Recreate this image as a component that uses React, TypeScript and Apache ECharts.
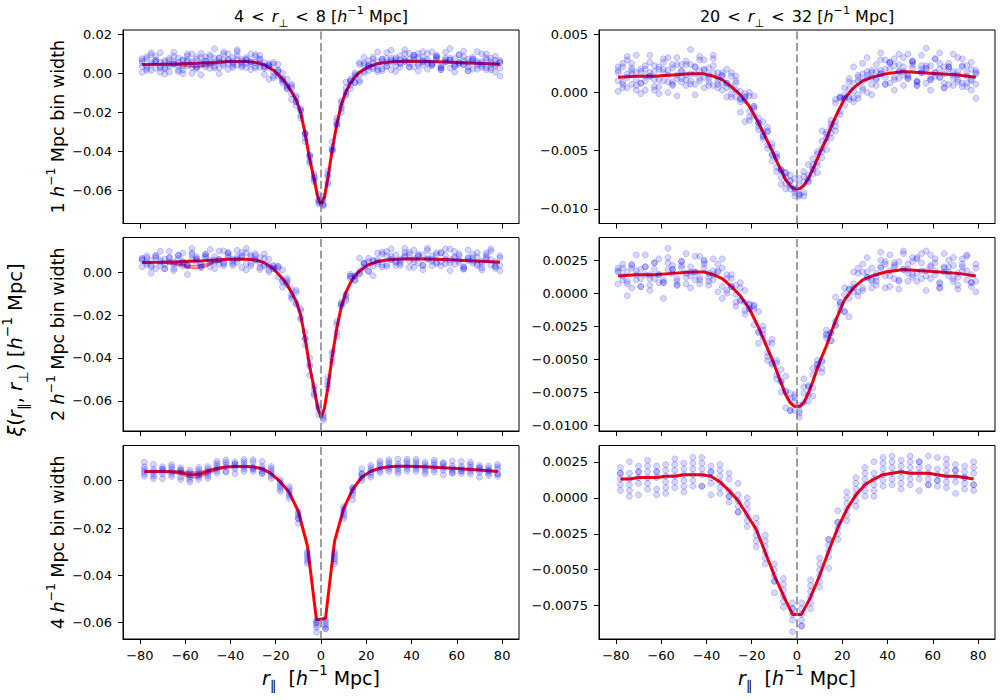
import React, { useEffect, useRef } from "react";
import * as echarts from "echarts";

// ---------- bin centres (r_parallel) ----------
const bins2 = [-79,-77,-75,-73,-71,-69,-67,-65,-63,-61,-59,-57,-55,-53,-51,-49,-47,-45,-43,-41,-39,-37,-35,-33,-31,-29,-27,-25,-23,-21,-19,-17,-15,-13,-11,-9,-7,-5,-3,-1,1,3,5,7,9,11,13,15,17,19,21,23,25,27,29,31,33,35,37,39,41,43,45,47,49,51,53,55,57,59,61,63,65,67,69,71,73,75,77,79];
const bins4 = [-78,-74,-70,-66,-62,-58,-54,-50,-46,-42,-38,-34,-30,-26,-22,-18,-14,-10,-6,-2,2,6,10,14,18,22,26,30,34,38,42,46,50,54,58,62,66,70,74,78];

// ---------- scatter: 4 < r_perp < 8, 1 Mpc bins ----------
const tlA = [0.0075,0.0025,0.0095,0.0056,0.0006,0.0066,0.0047,0.0107,0.0018,0.0038,0.0089,0.0000,0.0071,0.0082,0.0033,0.0055,0.0126,0.0028,0.0069,0.0020,0.0080,0.0111,0.0051,0.0030,0.0059,0.0096,0.0032,0.0054,-0.0030,0.0046,0.0016,-0.0040,-0.0059,-0.0055,-0.0165,-0.0180,-0.0350,-0.0430,-0.0515,-0.0670,-0.0650,-0.0570,-0.0350,-0.0260,-0.0180,-0.0045,-0.0060,0.0002,-0.0035,0.0052,0.0044,0.0023,0.0109,0.0023,0.0056,0.0078,0.0010,0.0071,0.0101,0.0052,0.0092,0.0042,0.0061,0.0021,0.0110,0.0080,0.0029,0.0068,0.0127,0.0036,0.0055,0.0084,0.0013,0.0072,0.0041,0.0100,0.0019,0.0058,0.0067,0.0026];
const tlB = [0.0035,0.0085,0.0015,0.0066,0.0106,0.0026,0.0007,0.0057,0.0078,-0.0002,0.0069,0.0050,0.0021,0.0102,0.0043,0.0085,0.0036,-0.0002,0.0099,0.0070,0.0040,0.0091,0.0061,0.0050,0.0099,0.0026,0.0072,0.0024,0.0040,-0.0024,0.0046,-0.0050,-0.0029,-0.0105,-0.0115,-0.0230,-0.0310,-0.0420,-0.0555,-0.0620,-0.0680,-0.0500,-0.0400,-0.0230,-0.0200,-0.0095,-0.0030,-0.0048,0.0055,0.0012,0.0064,0.0053,0.0009,0.0073,0.0036,0.0118,0.0060,0.0031,0.0071,0.0102,0.0032,0.0082,0.0111,0.0051,0.0040,0.0090,0.0019,0.0058,0.0077,0.0006,0.0095,0.0044,0.0073,0.0022,0.0111,0.0050,0.0029,0.0078,0.0007,0.0056];
const tlC = [0.0055,0.0035,0.0045,0.0066,0.0026,0.0056,0.0037,0.0047,0.0058,0.0068,0.0039,0.0060,0.0031,0.0052,0.0063,0.0045,0.0076,0.0058,0.0049,0.0070,0.0060,0.0041,0.0071,0.0070,0.0049,0.0056,0.0072,0.0034,0.0030,0.0006,0.0006,-0.0030,-0.0069,-0.0075,-0.0145,-0.0190,-0.0310,-0.0460,-0.0535,-0.0650,-0.0670,-0.0520,-0.0390,-0.0270,-0.0150,-0.0115,-0.0040,-0.0018,-0.0005,0.0042,0.0034,0.0033,0.0059,0.0073,0.0036,0.0058,0.0070,0.0051,0.0061,0.0072,0.0082,0.0052,0.0061,0.0071,0.0050,0.0080,0.0039,0.0058,0.0067,0.0046,0.0055,0.0064,0.0033,0.0062,0.0051,0.0040,0.0069,0.0048,0.0047,0.0056];
const tlD = [0.0065,0.0015,0.0055,0.0086,0.0036,0.0026,0.0077,0.0047,0.0008,0.0068,0.0059,0.0100,0.0031,0.0042,0.0083,0.0025,0.0056,0.0078,0.0039,0.0100,0.0050,0.0071,0.0031,0.0080,0.0059,0.0036,0.0092,0.0034,0.0040,-0.0014,0.0016,-0.0030,-0.0079,-0.0065,-0.0145,-0.0190,-0.0330,-0.0420,-0.0545,-0.0660,-0.0630,-0.0560,-0.0380,-0.0260,-0.0140,-0.0105,-0.0080,-0.0008,0.0045,0.0002,0.0034,0.0073,0.0039,0.0013,0.0076,0.0068,0.0040,0.0091,0.0061,0.0032,0.0072,0.0102,0.0041,0.0061,0.0050,0.0090,0.0029,0.0078,0.0067,0.0036,0.0095,0.0044,0.0053,0.0072,0.0021,0.0060,0.0079,0.0028,0.0037,0.0066];
const tlE = [0.0005,0.0075,0.0105,0.0026,0.0056,-0.0004,0.0067,0.0087,0.0038,0.0018,0.0099,0.0030,0.0081,-0.0008,0.0063,0.0095,0.0026,0.0078,0.0109,0.0050,0.0030,0.0121,0.0041,0.0070,0.0019,0.0086,0.0052,-0.0006,0.0050,0.0056,-0.0014,0.0000,-0.0079,-0.0135,-0.0125,-0.0215,-0.0305,-0.0450,-0.0530,-0.0650,-0.0675,-0.0530,-0.0395,-0.0245,-0.0170,-0.0075,-0.0040,-0.0048,-0.0045,0.0082,0.0014,0.0083,0.0019,0.0063,0.0106,0.0018,0.0080,0.0051,0.0121,0.0032,0.0092,0.0012,0.0081,0.0101,0.0040,0.0070,0.0019,0.0108,0.0027,0.0076,0.0045,0.0114,0.0013,0.0082,0.0061,0.0030,0.0099,0.0018,0.0087,-0.0014];

// ---------- scatter: 4 < r_perp < 8, 2 Mpc bins ----------
const mlA = [0.0025,0.0065,0.0055,0.0016,0.0096,0.0036,0.0067,0.0007,0.0078,0.0048,0.0029,0.0110,0.0061,0.0022,0.0073,0.0105,0.0016,0.0058,0.0039,0.0090,0.0050,0.0101,0.0071,0.0010,0.0079,0.0056,0.0022,0.0084,0.0010,0.0026,0.0026,-0.0070,-0.0039,-0.0105,-0.0085,-0.0220,-0.0310,-0.0400,-0.0575,-0.0640,-0.0680,-0.0510,-0.0380,-0.0300,-0.0140,-0.0125,-0.0010,-0.0018,-0.0005,0.0042,0.0064,-0.0017,0.0059,0.0033,0.0096,0.0058,0.0030,0.0051,0.0111,0.0082,0.0022,0.0072,0.0031,0.0111,0.0060,0.0040,0.0089,0.0078,0.0007,0.0096,0.0045,0.0024,0.0103,0.0052,0.0071,0.0010,0.0059,0.0098,0.0027,0.0076];
const mlB = [0.0055,0.0075,-0.0005,0.0066,0.0046,0.0016,0.0097,0.0037,0.0078,0.0028,-0.0011,0.0090,0.0061,0.0032,0.0083,0.0055,0.0046,0.0098,0.0029,0.0080,0.0040,0.0071,0.0021,0.0110,0.0039,0.0086,0.0042,0.0064,0.0000,0.0016,0.0016,-0.0040,-0.0029,-0.0115,-0.0095,-0.0210,-0.0280,-0.0480,-0.0545,-0.0630,-0.0690,-0.0490,-0.0400,-0.0230,-0.0150,-0.0135,-0.0030,-0.0038,0.0065,0.0022,0.0004,0.0053,0.0089,0.0023,0.0076,0.0108,0.0050,0.0041,0.0091,0.0022,0.0062,0.0082,0.0011,0.0101,0.0050,0.0080,0.0029,0.0108,0.0057,0.0036,0.0085,0.0014,0.0063,0.0042,0.0091,0.0020,0.0069,0.0108,0.0027,0.0006];
const mlC = [0.0060,0.0045,0.0030,0.0076,0.0031,0.0061,0.0047,0.0017,0.0063,0.0048,0.0034,0.0080,0.0051,0.0037,0.0068,0.0025,0.0071,0.0058,0.0044,0.0090,0.0060,0.0046,0.0076,0.0090,0.0029,0.0056,0.0067,0.0029,0.0030,0.0031,0.0026,-0.0045,-0.0059,-0.0080,-0.0150,-0.0170,-0.0340,-0.0440,-0.0530,-0.0665,-0.0660,-0.0525,-0.0420,-0.0245,-0.0160,-0.0110,-0.0020,-0.0018,-0.0010,0.0037,0.0049,0.0028,0.0049,0.0083,0.0026,0.0073,0.0045,0.0061,0.0076,0.0092,0.0047,0.0077,0.0031,0.0061,0.0075,0.0045,0.0089,0.0058,0.0042,0.0071,0.0055,0.0024,0.0068,0.0067,0.0036,0.0050,0.0079,0.0033,0.0047,0.0031];
const mlD = [0.0065,0.0035,0.0025,0.0076,0.0056,0.0016,0.0067,0.0047,0.0038,0.0088,0.0029,0.0060,0.0071,0.0022,0.0083,0.0045,0.0056,0.0038,0.0099,0.0070,0.0030,0.0061,0.0091,0.0040,0.0069,0.0076,0.0012,0.0034,0.0060,0.0016,-0.0024,0.0010,-0.0049,-0.0125,-0.0145,-0.0180,-0.0310,-0.0430,-0.0565,-0.0620,-0.0670,-0.0540,-0.0370,-0.0280,-0.0150,-0.0105,-0.0020,-0.0038,0.0005,0.0042,0.0004,0.0053,0.0039,0.0093,0.0036,0.0058,0.0080,0.0031,0.0071,0.0052,0.0102,0.0042,0.0081,0.0061,0.0030,0.0090,0.0049,0.0038,0.0107,0.0066,0.0075,0.0014,0.0053,0.0082,0.0031,0.0040,0.0089,0.0058,0.0017,0.0066];

// ---------- scatter: 4 < r_perp < 8, 4 Mpc bins ----------
const bl1 = [0.0059,0.0029,0.0049,0.0068,0.0015,0.0025,0.0036,0.0010,0.0072,0.0068,0.0050,0.0080,0.0059,0.0031,0.0060,-0.0005,-0.0065,-0.0130,-0.0350,-0.0600,-0.0605,-0.0300,-0.0150,-0.0040,0.0000,0.0055,0.0053,0.0049,0.0091,0.0041,0.0070,0.0059,0.0077,0.0025,0.0063,0.0041,0.0068,0.0045,0.0022,0.0049];
const bl2 = [0.0019,0.0049,0.0009,0.0038,0.0055,0.0015,0.0056,0.0050,0.0042,0.0038,0.0080,0.0060,0.0049,0.0081,0.0010,-0.0015,-0.0035,-0.0160,-0.0320,-0.0640,-0.0585,-0.0340,-0.0140,-0.0030,0.0030,0.0015,0.0083,0.0069,0.0051,0.0061,0.0040,0.0079,0.0047,0.0065,0.0053,0.0081,0.0028,0.0055,0.0062,0.0029];
const bl3 = [0.0039,0.0069,0.0029,0.0018,0.0045,0.0045,0.0006,0.0040,0.0062,0.0088,0.0060,0.0040,0.0079,0.0061,0.0020,-0.0045,-0.0055,-0.0140,-0.0300,-0.0620,-0.0625,-0.0330,-0.0120,-0.0060,0.0050,0.0035,0.0033,0.0079,0.0071,0.0051,0.0090,0.0039,0.0057,0.0075,0.0043,0.0061,0.0048,0.0015,0.0052,0.0059];
const bl4 = [0.0079,0.0019,0.0059,0.0048,0.0035,-0.0005,0.0016,0.0060,0.0032,0.0058,0.0070,0.0050,0.0089,0.0031,0.0030,0.0005,-0.0045,-0.0180,-0.0330,-0.0590,-0.0615,-0.0310,-0.0160,-0.0050,0.0030,0.0025,0.0073,0.0089,0.0041,0.0071,0.0050,0.0069,0.0037,0.0055,0.0083,0.0031,0.0058,0.0065,0.0042,0.0029];
const bl5 = [0.0029,0.0039,0.0049,0.0028,0.0005,0.0035,0.0026,0.0030,0.0082,0.0038,0.0030,0.0070,0.0039,0.0051,0.0050,-0.0025,-0.0075,-0.0150,-0.0340,-0.0610,-0.0595,-0.0350,-0.0130,-0.0080,0.0020,0.0065,0.0063,0.0039,0.0061,0.0081,0.0060,0.0029,0.0067,0.0045,0.0033,0.0051,0.0038,0.0055,0.0032,0.0069];
const bl6 = [0.0049,0.0009,0.0039,0.0058,0.0045,0.0005,0.0046,0.0020,0.0052,0.0078,0.0070,0.0090,0.0049,0.0041,0.0040,-0.0035,-0.0025,-0.0160,-0.0310,-0.0600,-0.0625,-0.0320,-0.0110,-0.0030,0.0010,0.0045,0.0043,0.0059,0.0031,0.0091,0.0080,0.0049,0.0087,0.0075,0.0033,0.0041,0.0078,0.0035,0.0042,0.0019];

// ---------- scatter: 20 < r_perp < 32, 1 Mpc bins ----------
const trA = [0.0022,0.0007,0.0028,0.0016,0.0002,0.0020,0.0014,0.0032,0.0005,0.0011,0.0026,0.0000,0.0021,0.0024,0.0009,0.0015,0.0037,0.0007,0.0019,0.0004,0.0021,0.0029,0.0010,0.0002,0.0008,0.0017,-0.0004,0.0001,-0.0025,-0.0003,-0.0012,-0.0029,-0.0034,-0.0030,-0.0059,-0.0053,-0.0079,-0.0072,-0.0071,-0.0089,-0.0080,-0.0089,-0.0062,-0.0066,-0.0063,-0.0033,-0.0043,-0.0024,-0.0033,-0.0004,-0.0002,-0.0006,0.0022,-0.0002,0.0010,0.0018,-0.0002,0.0018,0.0028,0.0013,0.0026,0.0011,0.0018,0.0006,0.0033,0.0024,0.0009,0.0020,0.0038,0.0011,0.0017,0.0025,0.0004,0.0022,0.0012,0.0030,0.0005,0.0017,0.0020,0.0007];
const trB = [0.0010,0.0025,0.0004,0.0019,0.0032,0.0008,0.0002,0.0017,0.0023,-0.0001,0.0020,0.0015,0.0006,0.0030,0.0012,0.0024,0.0010,-0.0002,0.0028,0.0019,0.0009,0.0023,0.0013,0.0008,0.0020,-0.0004,0.0008,-0.0008,-0.0004,-0.0024,-0.0003,-0.0032,-0.0025,-0.0045,-0.0044,-0.0068,-0.0067,-0.0069,-0.0083,-0.0074,-0.0089,-0.0068,-0.0077,-0.0057,-0.0069,-0.0048,-0.0034,-0.0039,-0.0006,-0.0016,0.0004,0.0003,-0.0008,0.0013,0.0004,0.0030,0.0013,0.0006,0.0019,0.0028,0.0008,0.0023,0.0033,0.0015,0.0012,0.0027,0.0006,0.0017,0.0023,0.0002,0.0029,0.0013,0.0022,0.0007,0.0033,0.0015,0.0008,0.0023,0.0002,0.0016];
const trC = [0.0017,0.0009,0.0013,0.0021,0.0006,0.0018,0.0010,0.0014,0.0018,0.0022,0.0010,0.0019,0.0007,0.0015,0.0019,0.0011,0.0024,0.0016,0.0012,0.0020,0.0015,0.0006,0.0017,0.0015,0.0004,0.0005,0.0010,-0.0006,-0.0007,-0.0016,-0.0014,-0.0026,-0.0038,-0.0034,-0.0054,-0.0055,-0.0067,-0.0083,-0.0076,-0.0083,-0.0087,-0.0072,-0.0074,-0.0070,-0.0053,-0.0056,-0.0036,-0.0030,-0.0025,-0.0005,-0.0005,-0.0004,0.0008,0.0015,0.0002,0.0012,0.0017,0.0011,0.0016,0.0020,0.0025,0.0013,0.0018,0.0022,0.0014,0.0026,0.0010,0.0017,0.0021,0.0013,0.0017,0.0020,0.0008,0.0020,0.0015,0.0011,0.0022,0.0014,0.0010,0.0017];
const trD = [0.0019,0.0004,0.0016,0.0025,0.0011,0.0008,0.0023,0.0014,0.0002,0.0020,0.0017,0.0030,0.0009,0.0012,0.0024,0.0006,0.0016,0.0022,0.0010,0.0028,0.0012,0.0017,0.0004,0.0017,0.0008,-0.0001,0.0014,-0.0005,-0.0004,-0.0021,-0.0012,-0.0026,-0.0040,-0.0033,-0.0053,-0.0056,-0.0073,-0.0069,-0.0080,-0.0086,-0.0074,-0.0086,-0.0071,-0.0066,-0.0051,-0.0051,-0.0049,-0.0027,-0.0009,-0.0019,-0.0005,0.0009,0.0001,-0.0005,0.0016,0.0015,0.0007,0.0024,0.0016,0.0007,0.0020,0.0029,0.0012,0.0018,0.0015,0.0027,0.0009,0.0023,0.0020,0.0011,0.0029,0.0013,0.0016,0.0022,0.0006,0.0018,0.0023,0.0008,0.0011,0.0019];
const trE = [0.0001,0.0022,0.0031,0.0007,0.0017,-0.0001,0.0020,0.0026,0.0011,0.0005,0.0029,0.0009,0.0024,-0.0003,0.0018,0.0027,0.0007,0.0022,0.0031,0.0013,0.0006,0.0032,0.0007,0.0014,-0.0004,0.0014,0.0002,-0.0017,-0.0001,0.0000,-0.0020,-0.0022,-0.0037,-0.0048,-0.0047,-0.0064,-0.0066,-0.0078,-0.0076,-0.0083,-0.0088,-0.0077,-0.0076,-0.0062,-0.0060,-0.0042,-0.0039,-0.0035,-0.0029,-0.0004,-0.0011,0.0012,-0.0005,0.0010,0.0025,0.0000,0.0019,0.0012,0.0034,0.0007,0.0026,0.0002,0.0024,0.0030,0.0012,0.0021,0.0006,0.0032,0.0008,0.0023,0.0014,0.0034,0.0004,0.0025,0.0018,0.0009,0.0029,0.0005,0.0026,-0.0005];

// ---------- scatter: 20 < r_perp < 32, 2 Mpc bins ----------
const mrA = [0.0007,0.0019,0.0016,0.0004,0.0029,0.0011,0.0020,0.0002,0.0023,0.0014,0.0008,0.0034,0.0018,0.0006,0.0021,0.0030,0.0004,0.0016,0.0010,0.0025,0.0012,0.0026,0.0016,-0.0004,0.0014,0.0005,-0.0007,0.0008,-0.0013,-0.0009,-0.0009,-0.0038,-0.0028,-0.0045,-0.0035,-0.0065,-0.0067,-0.0063,-0.0089,-0.0082,-0.0091,-0.0071,-0.0071,-0.0078,-0.0051,-0.0057,-0.0028,-0.0030,-0.0024,-0.0007,0.0004,-0.0018,0.0007,0.0001,0.0022,0.0012,0.0004,0.0012,0.0031,0.0022,0.0005,0.0020,0.0009,0.0032,0.0018,0.0012,0.0027,0.0023,0.0002,0.0029,0.0014,0.0007,0.0030,0.0016,0.0021,0.0003,0.0017,0.0029,0.0008,0.0022];
const mrB = [0.0016,0.0022,-0.0002,0.0019,0.0014,0.0005,0.0029,0.0011,0.0023,0.0008,-0.0004,0.0027,0.0018,0.0009,0.0024,0.0015,0.0013,0.0028,0.0007,0.0022,0.0009,0.0017,0.0001,0.0026,0.0002,0.0014,-0.0001,0.0004,-0.0016,-0.0012,-0.0012,-0.0029,-0.0025,-0.0048,-0.0038,-0.0062,-0.0058,-0.0087,-0.0080,-0.0079,-0.0094,-0.0065,-0.0077,-0.0057,-0.0054,-0.0060,-0.0034,-0.0036,-0.0003,-0.0013,-0.0014,0.0003,0.0016,-0.0002,0.0016,0.0027,0.0010,0.0009,0.0025,0.0004,0.0017,0.0023,0.0003,0.0030,0.0015,0.0024,0.0009,0.0030,0.0017,0.0011,0.0026,0.0004,0.0019,0.0013,0.0027,0.0006,0.0020,0.0028,0.0008,0.0001];
const mrC = [0.0017,0.0013,0.0009,0.0021,0.0010,0.0018,0.0014,0.0006,0.0018,0.0014,0.0010,0.0023,0.0015,0.0011,0.0019,0.0007,0.0020,0.0016,0.0012,0.0024,0.0015,0.0010,0.0017,0.0019,0.0000,0.0005,0.0006,-0.0006,-0.0007,-0.0008,-0.0010,-0.0030,-0.0034,-0.0038,-0.0054,-0.0051,-0.0075,-0.0075,-0.0076,-0.0089,-0.0085,-0.0076,-0.0082,-0.0062,-0.0057,-0.0052,-0.0032,-0.0030,-0.0025,-0.0009,-0.0001,-0.0004,0.0004,0.0015,0.0002,0.0016,0.0009,0.0015,0.0020,0.0024,0.0013,0.0021,0.0010,0.0018,0.0022,0.0014,0.0026,0.0017,0.0013,0.0021,0.0017,0.0008,0.0020,0.0020,0.0011,0.0015,0.0022,0.0010,0.0014,0.0009];
const mrD = [0.0019,0.0010,0.0007,0.0022,0.0017,0.0005,0.0020,0.0014,0.0011,0.0026,0.0008,0.0018,0.0021,0.0006,0.0024,0.0012,0.0016,0.0010,0.0028,0.0019,0.0006,0.0014,0.0022,0.0005,0.0011,0.0011,-0.0010,-0.0005,0.0002,-0.0012,-0.0024,-0.0014,-0.0031,-0.0051,-0.0053,-0.0053,-0.0067,-0.0074,-0.0089,-0.0077,-0.0089,-0.0083,-0.0070,-0.0072,-0.0054,-0.0051,-0.0031,-0.0036,-0.0021,-0.0007,-0.0014,0.0003,0.0001,0.0019,0.0004,0.0012,0.0019,0.0006,0.0019,0.0013,0.0029,0.0011,0.0024,0.0018,0.0009,0.0027,0.0015,0.0011,0.0032,0.0020,0.0023,0.0004,0.0016,0.0025,0.0009,0.0012,0.0026,0.0017,0.0005,0.0019];

// ---------- scatter: 20 < r_perp < 32, 4 Mpc bins ----------
const br1 = [0.0021,0.0009,0.0018,0.0026,0.0006,0.0015,0.0019,0.0004,0.0024,0.0020,0.0010,0.0019,0.0005,-0.0010,0.0000,-0.0018,-0.0042,-0.0046,-0.0076,-0.0077,-0.0081,-0.0057,-0.0058,-0.0033,-0.0029,0.0000,0.0002,0.0005,0.0025,0.0008,0.0021,0.0018,0.0025,0.0005,0.0021,0.0012,0.0023,0.0015,0.0006,0.0017];
const br2 = [0.0005,0.0017,0.0002,0.0014,0.0022,0.0011,0.0027,0.0020,0.0012,0.0008,0.0022,0.0011,0.0001,0.0010,-0.0020,-0.0022,-0.0030,-0.0058,-0.0064,-0.0093,-0.0073,-0.0073,-0.0054,-0.0029,-0.0017,-0.0016,0.0014,0.0013,0.0009,0.0016,0.0009,0.0026,0.0013,0.0021,0.0017,0.0028,0.0007,0.0019,0.0022,0.0009];
const br3 = [0.0013,0.0025,0.0010,0.0006,0.0018,0.0023,0.0007,0.0016,0.0020,0.0028,0.0014,0.0003,0.0013,0.0002,-0.0016,-0.0034,-0.0038,-0.0050,-0.0056,-0.0085,-0.0089,-0.0069,-0.0046,-0.0041,-0.0009,-0.0008,-0.0006,0.0017,0.0017,0.0012,0.0029,0.0010,0.0017,0.0025,0.0013,0.0020,0.0015,0.0003,0.0018,0.0021];
const br4 = [0.0017,0.0005,0.0022,0.0018,0.0014,0.0003,0.0011,0.0024,0.0008,0.0016,0.0018,0.0007,0.0017,-0.0010,-0.0012,-0.0014,-0.0034,-0.0066,-0.0068,-0.0073,-0.0085,-0.0061,-0.0062,-0.0037,-0.0017,-0.0012,0.0010,0.0021,0.0005,0.0020,0.0013,0.0022,0.0009,0.0017,0.0029,0.0008,0.0019,0.0023,0.0014,0.0009];
const br5 = [0.0009,0.0013,0.0018,0.0010,0.0002,0.0019,0.0015,0.0012,0.0028,0.0008,0.0002,0.0015,-0.0003,-0.0002,-0.0004,-0.0026,-0.0046,-0.0054,-0.0072,-0.0081,-0.0077,-0.0077,-0.0050,-0.0049,-0.0021,0.0004,0.0006,0.0001,0.0013,0.0024,0.0017,0.0006,0.0021,0.0013,0.0009,0.0016,0.0011,0.0019,0.0010,0.0025];
const br6 = [0.0017,0.0001,0.0014,0.0022,0.0018,0.0007,0.0023,0.0008,0.0016,0.0024,0.0018,0.0023,0.0001,-0.0006,-0.0008,-0.0030,-0.0026,-0.0058,-0.0060,-0.0077,-0.0089,-0.0065,-0.0042,-0.0029,-0.0025,-0.0004,-0.0002,0.0009,0.0001,0.0028,0.0025,0.0014,0.0029,0.0025,0.0009,0.0012,0.0027,0.0011,0.0014,0.0005];

// ---------- model curves (red) ----------
const lineX12 = [-79,-71,-63,-55,-47,-41,-37,-33,-29,-25,-21,-17,-15,-13,-11,-9,-7,-5,-3,-1.5,0,1.5,3,5,7,9,11,13,15,17,21,25,29,33,39,47,55,63,71,79];
const lineLeft12 = [0.0045,0.0046,0.0048,0.0051,0.0056,0.0060,0.0061,0.0060,0.0056,0.0044,0.0016,-0.0030,-0.0059,-0.0095,-0.0135,-0.0200,-0.0310,-0.0440,-0.0545,-0.0630,-0.0676,-0.0635,-0.0540,-0.0390,-0.0260,-0.0160,-0.0095,-0.0050,-0.0018,0.0005,0.0034,0.0049,0.0056,0.0060,0.0062,0.0061,0.0058,0.0054,0.0050,0.0046];
const lineRightTop = [0.0013,0.0014,0.0014,0.0015,0.0016,0.0016,0.0014,0.0011,0.0005,-0.0002,-0.0012,-0.0026,-0.0034,-0.0042,-0.0050,-0.0059,-0.0067,-0.0075,-0.0080,-0.00825,-0.0083,-0.00825,-0.0080,-0.0074,-0.0066,-0.0057,-0.0048,-0.0040,-0.0030,-0.0021,-0.0005,0.0004,0.0010,0.0013,0.0016,0.0018,0.0017,0.0016,0.0015,0.0013];
const lineRightMid = [0.0013,0.0014,0.0014,0.0015,0.0016,0.0016,0.0014,0.0011,0.0005,-0.0002,-0.0012,-0.0026,-0.0034,-0.0042,-0.0050,-0.0059,-0.0068,-0.0077,-0.0083,-0.00855,-0.0086,-0.00855,-0.0083,-0.0076,-0.0067,-0.0057,-0.0048,-0.0040,-0.0030,-0.0021,-0.0005,0.0004,0.0010,0.0013,0.0016,0.0018,0.0017,0.0016,0.0015,0.0013];
const lineLeftBottom = [0.0039,0.0039,0.0039,0.0038,0.0035,0.0025,0.0026,0.0040,0.0052,0.0058,0.0060,0.0060,0.0059,0.0051,0.0030,-0.0004,-0.0050,-0.0130,-0.0275,-0.0588,-0.0582,-0.0255,-0.0118,-0.0036,0.0015,0.0040,0.0053,0.0059,0.0061,0.0061,0.0060,0.0059,0.0057,0.0055,0.0053,0.0051,0.0048,0.0045,0.0042,0.0039];
const lineRightBottom = [0.0013,0.0013,0.0014,0.0014,0.0014,0.0015,0.0015,0.0016,0.0016,0.0016,0.0015,0.0011,0.0005,-0.0002,-0.0012,-0.0022,-0.0038,-0.0054,-0.0068,-0.0081,-0.0081,-0.0069,-0.0054,-0.0037,-0.0021,-0.0008,0.0002,0.0009,0.0013,0.0016,0.0017,0.0018,0.0017,0.0017,0.0017,0.0016,0.0015,0.0015,0.0014,0.0013];

// alternative model curves that split around r_parallel ~ -55
const wiggleX12 = [-71,-63,-59,-55,-51,-47,-41];
const topLeftAltA = [0.0046,0.0042,0.0036,0.0033,0.0039,0.0050,0.0060];
const topLeftAltB = [0.0046,0.0050,0.0052,0.0053,0.0055,0.0057,0.0060];
const midLeftAltA = [0.0046,0.0034,0.0022,0.0017,0.0026,0.0045,0.0060];
const midLeftAltB = [0.0046,0.0040,0.0031,0.0029,0.0036,0.0050,0.0060];
const wiggleX4 = [-70,-66,-62,-58,-54,-50,-46,-42];
const botLeftAltA = [0.0039,0.0036,0.0028,0.0015,0.0014,0.0030,0.0046,0.0056];
const botLeftAltB = [0.0039,0.0040,0.0040,0.0036,0.0036,0.0046,0.0054,0.0058];

// ---------- tick labels ----------
const xTicks = [-80, -60, -40, -20, 0, 20, 40, 60, 80];
const yTicksTL = [-0.06, -0.04, -0.02, 0, 0.02];
const yTicksTR = [-0.01, -0.005, 0, 0.005];
const yTicksML = [-0.06, -0.04, -0.02, 0];
const yTicksMR = [-0.01, -0.0075, -0.005, -0.0025, 0, 0.0025];
const yTicksBL = [-0.06, -0.04, -0.02, 0];
const yTicksBR = [-0.0075, -0.005, -0.0025, 0, 0.0025];

const FONT = "DejaVu Sans";
const MINUS = "\u2212";

const fmt = (v: number, d: number) => {
  const s = Math.abs(v) < 1e-12 ? (0).toFixed(d) : v.toFixed(d);
  return s.replace("-", MINUS);
};

type LineDef = { x: number[]; y: number[]; alt?: boolean };
type PanelDef = {
  left: number; top: number; yMin: number; yMax: number; yTicks: number[]; dec: number;
  bins: number[]; pts: number[][]; lines: LineDef[]; xLabels: boolean;
};

const COL_L = 123, COL_R = 599, W = 396, H = 193.5;
const ROWS = [30, 237.5, 445.5];

const panels: PanelDef[] = [
  { left: COL_L, top: ROWS[0], yMin: -0.077, yMax: 0.0222, yTicks: yTicksTL, dec: 2, bins: bins2, pts: [tlA, tlB, tlC, tlD, tlE],
    lines: [{ x: wiggleX12, y: topLeftAltA, alt: true }, { x: wiggleX12, y: topLeftAltB, alt: true }, { x: lineX12, y: lineLeft12 }], xLabels: false },
  { left: COL_R, top: ROWS[0], yMin: -0.01126, yMax: 0.00537, yTicks: yTicksTR, dec: 3, bins: bins2, pts: [trA, trB, trC, trD, trE],
    lines: [{ x: lineX12, y: lineRightTop }], xLabels: false },
  { left: COL_L, top: ROWS[1], yMin: -0.074, yMax: 0.0161, yTicks: yTicksML, dec: 2, bins: bins2, pts: [mlA, mlB, mlC, mlD],
    lines: [{ x: wiggleX12, y: midLeftAltA, alt: true }, { x: wiggleX12, y: midLeftAltB, alt: true }, { x: lineX12, y: lineLeft12 }], xLabels: false },
  { left: COL_R, top: ROWS[1], yMin: -0.01045, yMax: 0.00422, yTicks: yTicksMR, dec: 4, bins: bins2, pts: [mrA, mrB, mrC, mrD],
    lines: [{ x: lineX12, y: lineRightMid }], xLabels: false },
  { left: COL_L, top: ROWS[2], yMin: -0.0669, yMax: 0.0149, yTicks: yTicksBL, dec: 2, bins: bins4, pts: [bl1, bl2, bl3, bl4, bl5, bl6],
    lines: [{ x: wiggleX4, y: botLeftAltA, alt: true }, { x: wiggleX4, y: botLeftAltB, alt: true }, { x: bins4, y: lineLeftBottom }], xLabels: true },
  { left: COL_R, top: ROWS[2], yMin: -0.00981, yMax: 0.00363, yTicks: yTicksBR, dec: 4, bins: bins4, pts: [br1, br2, br3, br4, br5, br6],
    lines: [{ x: bins4, y: lineRightBottom }], xLabels: true },
];

const zip = (xs: number[], ys: number[]) => ys.map((y, i) => [xs[i], y]);

const mkRich = (F: number) => ({
  n: { fontSize: F, fontFamily: FONT, fill: "#000", lineHeight: F * 1.5, verticalAlign: "middle" },
  rel: { fontSize: F, fontFamily: FONT, fill: "#000", lineHeight: F * 1.5, verticalAlign: "middle", padding: [0, 2, 0, 2] },
  i: { fontSize: F, fontFamily: FONT, fontStyle: "italic", fill: "#000", lineHeight: F * 1.5, verticalAlign: "middle" },
  sup: { fontSize: F * 0.7, fontFamily: FONT, fill: "#000", lineHeight: F * 0.75, verticalAlign: "top" },
  sub: { fontSize: F * 0.7, fontFamily: FONT, fill: "#000", lineHeight: F * 0.75, verticalAlign: "bottom" },
});

const mathText = (x: number, y: number, text: string, F: number, rot = 0) => ({
  type: "text",
  x, y, rotation: rot,
  silent: true,
  style: { text, rich: mkRich(F), fontSize: F, fontFamily: FONT, fill: "#000", align: "center", verticalAlign: "middle" },
});

const buildOption = () => {
  const grid: any[] = [], xAxis: any[] = [], yAxis: any[] = [], series: any[] = [];
  panels.forEach((p, k) => {
    grid.push({ left: p.left, top: p.top, width: W, height: H, show: true, borderColor: "#000", borderWidth: 1, containLabel: false });
    xAxis.push({
      type: "value", gridIndex: k, min: -87.45, max: 87.45,
      axisLine: { show: true, onZero: false, lineStyle: { color: "#000", width: 1 } },
      axisTick: { show: true, length: 5, lineStyle: { color: "#000", width: 1 }, customValues: xTicks },
      axisLabel: { show: p.xLabels, customValues: xTicks, formatter: (v: number) => fmt(v, 0), color: "#000", fontSize: 13, fontFamily: FONT, margin: 10 },
      splitLine: { show: false },
    });
    yAxis.push({
      type: "value", gridIndex: k, min: p.yMin, max: p.yMax,
      axisLine: { show: true, onZero: false, lineStyle: { color: "#000", width: 1 } },
      axisTick: { show: true, length: 5, lineStyle: { color: "#000", width: 1 }, customValues: p.yTicks },
      axisLabel: { show: true, customValues: p.yTicks, formatter: (v: number) => fmt(v, p.dec), color: "#000", fontSize: 13, fontFamily: FONT, margin: 11 },
      splitLine: { show: false },
    });
    p.lines.forEach((l) => {
      series.push({
        type: "line", xAxisIndex: k, yAxisIndex: k, data: zip(l.x, l.y), symbol: "none", showSymbol: false, silent: true,
        lineStyle: { color: "#ff0000", width: l.alt ? 2 : 3, opacity: l.alt ? 0.55 : 1 }, z: 2,
      });
    });
    p.pts.forEach((ys) => {
      series.push({
        type: "scatter", xAxisIndex: k, yAxisIndex: k, data: zip(p.bins, ys), symbol: "circle", symbolSize: 6, silent: true,
        itemStyle: { color: "rgba(0,0,255,0.2)", borderColor: "rgba(0,0,255,0.3)", borderWidth: 0.8 }, z: 3,
      });
    });
    series.push({
      type: "line", xAxisIndex: k, yAxisIndex: k, data: [], silent: true, z: 5,
      markLine: {
        silent: true, symbol: ["none", "none"], label: { show: false },
        lineStyle: { color: "#808080", type: [8, 3.5], width: 1.5 },
        data: [{ xAxis: 0 }],
      },
    });
  });

  const cx = (l: number) => l + W / 2;
  const rowMid = (t: number) => t + H / 2;
  const graphic: any[] = [
    mathText(cx(COL_L), 16.5, "{n|4 }{rel|<}{n| }{i|r}{sub|⊥}{n| }{rel|<}{n| 8 [}{i|h}{sup|−1}{n| Mpc]}", 16),
    mathText(cx(COL_R), 16.5, "{n|20 }{rel|<}{n| }{i|r}{sub|⊥}{n| }{rel|<}{n| 32 [}{i|h}{sup|−1}{n| Mpc]}", 16),
    mathText(58, rowMid(ROWS[0]), "{n|1 }{i|h}{sup|−1}{n| Mpc bin width}", 17.5, Math.PI / 2),
    mathText(58, rowMid(ROWS[1]), "{n|2 }{i|h}{sup|−1}{n| Mpc bin width}", 17.5, Math.PI / 2),
    mathText(58, rowMid(ROWS[2]), "{n|4 }{i|h}{sup|−1}{n| Mpc bin width}", 17.5, Math.PI / 2),
    mathText(15, 350, "{i|ξ}{n|(}{i|r}{sub|∥}{n|, }{i|r}{sub|⊥}{n|) [}{i|h}{sup|−1}{n| Mpc]}", 19.5, Math.PI / 2),
    mathText(cx(COL_L), 678, "{i|r}{sub|∥}{n|  [}{i|h}{sup|−1}{n| Mpc]}", 19),
    mathText(cx(COL_R), 678, "{i|r}{sub|∥}{n|  [}{i|h}{sup|−1}{n| Mpc]}", 19),
  ];

  return { animation: false, backgroundColor: "#fff", grid, xAxis, yAxis, series, graphic };
};

export default function App() {
  const ref = useRef<HTMLDivElement>(null);
  useEffect(() => {
    if (!ref.current) return;
    const chart = echarts.init(ref.current, null, { renderer: "svg" });
    chart.setOption(buildOption() as any);
    return () => chart.dispose();
  }, []);
  return (
    <div
      ref={ref}
      style={{ position: "fixed", left: 0, top: 0, width: 1000, height: 700, background: "#fff" }}
    />
  );
}
